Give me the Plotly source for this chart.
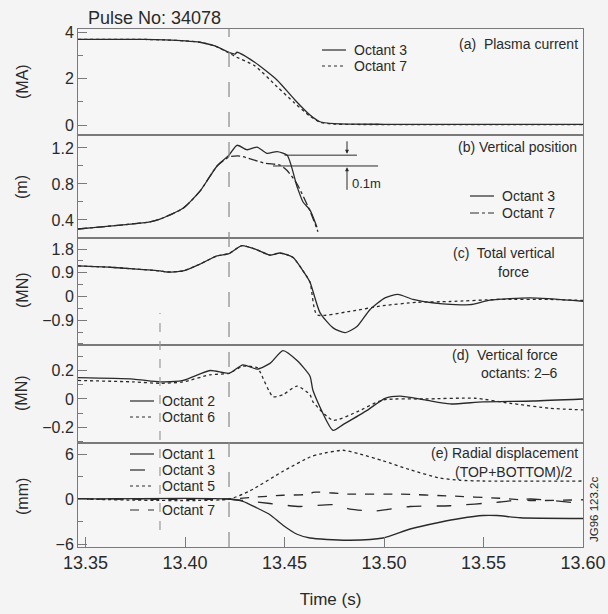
import plotly.graph_objects as go
from plotly.subplots import make_subplots

# ---------------- data (time in s) ----------------
# (a) Plasma current (MA)
t_ip3 = [13.3462, 13.38, 13.39, 13.40, 13.4075, 13.415, 13.4221, 13.4251, 13.4261, 13.435, 13.4462, 13.455, 13.4628, 13.4678, 13.475, 13.50, 13.60]
ip3 = [3.68, 3.68, 3.66, 3.62, 3.56, 3.40, 3.12, 3.05, 3.13, 2.70, 1.94, 1.10, 0.43, 0.14, 0.06, 0.03, 0.03]
t_ip7 = [13.3462, 13.38, 13.39, 13.40, 13.4075, 13.415, 13.4221, 13.4251, 13.435, 13.4462, 13.455, 13.4628, 13.4678, 13.475, 13.50, 13.60]
ip7 = [3.68, 3.68, 3.66, 3.62, 3.56, 3.40, 3.10, 2.95, 2.55, 1.65, 0.95, 0.38, 0.12, 0.04, 0.02, 0.02]

# (b) Vertical position (m)
t_z3 = [13.3462, 13.3824, 13.3874, 13.3990, 13.4075, 13.4161, 13.4221, 13.4261, 13.4312, 13.4362, 13.4412, 13.4462, 13.4513, 13.4563, 13.4593, 13.4628, 13.4663]
z3 = [0.30, 0.38, 0.41, 0.53, 0.72, 1.00, 1.12, 1.23, 1.18, 1.21, 1.14, 1.16, 1.12, 0.77, 0.60, 0.51, 0.32]
t_z7 = [13.3462, 13.3824, 13.3874, 13.3990, 13.4075, 13.4161, 13.4221, 13.4276, 13.4402, 13.4477, 13.4513, 13.4563, 13.4628, 13.4668]
z7 = [0.30, 0.38, 0.41, 0.53, 0.72, 1.00, 1.10, 1.11, 1.03, 1.01, 0.95, 0.80, 0.50, 0.27]

# (c) Total vertical force (MN)
t_fc = [13.3462, 13.3623, 13.3739, 13.3874, 13.3910, 13.3990, 13.4075, 13.4161, 13.4221, 13.4286, 13.4362, 13.4427, 13.4477, 13.4543, 13.4593, 13.4628, 13.4678, 13.4744, 13.4804, 13.4864, 13.4929, 13.5005, 13.5070, 13.5146, 13.5281, 13.5432, 13.5533, 13.5734, 13.60]
fc_solid = [1.16, 1.11, 1.05, 0.97, 0.93, 0.97, 1.23, 1.54, 1.63, 1.93, 1.77, 1.57, 1.65, 1.48, 0.97, 0.54, -0.61, -1.19, -1.37, -1.14, -0.50, -0.05, 0.08, -0.11, -0.27, -0.31, -0.14, -0.05, -0.18]
t_fc7 = [13.3462, 13.3623, 13.3739, 13.3874, 13.3910, 13.3990, 13.4075, 13.4161, 13.4221, 13.4286, 13.4362, 13.4427, 13.4477, 13.4543, 13.4593, 13.4628, 13.4663, 13.4829, 13.4995, 13.5166, 13.5332, 13.5583, 13.5834, 13.60]
fc_dot = [1.16, 1.11, 1.05, 0.97, 0.93, 0.97, 1.23, 1.54, 1.63, 1.93, 1.77, 1.57, 1.65, 1.48, 0.97, 0.54, -0.69, -0.56, -0.35, -0.22, -0.19, -0.11, -0.11, -0.15]

# (d) Vertical force octants 2-6 (MN)
t_f2 = [13.3462, 13.3739, 13.3874, 13.3990, 13.4126, 13.4221, 13.4291, 13.4362, 13.4427, 13.4492, 13.4563, 13.4628, 13.4643, 13.4744, 13.4794, 13.4915, 13.5005, 13.5080, 13.5206, 13.5332, 13.5497, 13.5749, 13.60]
f2 = [0.15, 0.14, 0.12, 0.13, 0.20, 0.18, 0.24, 0.21, 0.25, 0.34, 0.27, 0.16, 0.06, -0.22, -0.18, -0.08, 0.005, 0.02, -0.007, -0.035, -0.02, -0.014, 0.0]
t_f6 = [13.3462, 13.3739, 13.3874, 13.3990, 13.4126, 13.4221, 13.4291, 13.4362, 13.4377, 13.4442, 13.4492, 13.4563, 13.4628, 13.4643, 13.4744, 13.4864, 13.4995, 13.5206, 13.5457, 13.5633, 13.5834, 13.60]
f6 = [0.13, 0.12, 0.11, 0.12, 0.17, 0.18, 0.23, 0.22, 0.19, 0.016, 0.03, 0.09, 0.03, -0.02, -0.15, -0.09, -0.007, 0.0, 0.005, -0.03, -0.065, -0.077]

# (e) Radial displacement (TOP+BOTTOM)/2 (mm)
t_r1 = [13.3462, 13.4221, 13.4291, 13.4362, 13.4427, 13.4492, 13.4563, 13.4628, 13.4713, 13.4829, 13.4995, 13.5131, 13.5281, 13.5382, 13.5497, 13.5568, 13.5684, 13.60]
r1 = [0.0, 0.0, -0.3, -1.2, -2.1, -3.5, -4.7, -5.2, -5.4, -5.5, -5.2, -4.0, -3.1, -2.6, -2.2, -2.2, -2.5, -2.6]
t_r3 = [13.3462, 13.4221, 13.4291, 13.4427, 13.4578, 13.4744, 13.4829, 13.4955, 13.5131, 13.5332, 13.5583, 13.5734, 13.60]
r3 = [0.0, 0.0, -0.2, -0.6, -1.0, -0.75, -1.35, -1.6, -1.0, -0.9, -0.4, 0.0, -0.6]
t_r5 = [13.3462, 13.4221, 13.4327, 13.4492, 13.4628, 13.4678, 13.4794, 13.4879, 13.4995, 13.5131, 13.5281, 13.5382, 13.5497, 13.60]
r5 = [0.0, 0.0, 1.1, 3.7, 5.6, 6.0, 6.5, 6.0, 5.1, 3.9, 2.8, 2.5, 2.4, 2.4]
t_r7 = [13.3462, 13.4221, 13.4327, 13.4492, 13.4628, 13.4643, 13.4829, 13.5080, 13.5332, 13.5583, 13.5734, 13.60]
r7 = [0.0, 0.0, 0.2, 0.5, 0.65, 0.9, 0.65, 0.65, 0.4, 0.1, -0.2, -0.1]

x_ticks = [13.35, 13.40, 13.45, 13.50, 13.55, 13.60]
x_ticktext = ["13.35", "13.40", "13.45", "13.50", "13.55", "13.60"]
T_EVENT = 13.4221
T_EVENT2 = 13.3874

# ---------------- figure ----------------
FONT = "Liberation Sans, Arial, sans-serif"
INK = "#2a2a2a"
GRID = "#7a7a7a"
W, H = 608, 614
ML, MR, MT, MB = 78, 25, 29, 67
PW, PH = W - ML - MR, H - MT - MB

def px(xp):
    return (xp - ML) / PW

def py(yp):
    return (H - MB - yp) / PH

fig = make_subplots(rows=5, cols=1, shared_xaxes=True, vertical_spacing=0)

def ln(dash, w=1.3, shape="spline"):
    d = dict(color=INK, width=w, dash=dash)
    if shape:
        d.update(shape=shape, smoothing=0.6)
    return d

series = [
    (1, t_ip3, ip3, "Octant 3", "solid"),
    (1, t_ip7, ip7, "Octant 7", "dot"),
    (2, t_z3, z3, "Octant 3", "solid"),
    (2, t_z7, z7, "Octant 7", "dashdot"),
    (3, t_fc7, fc_dot, "Octant 7", "dot"),
    (3, t_fc, fc_solid, "Octant 3", "solid"),
    (4, t_f2, f2, "Octant 2", "solid"),
    (4, t_f6, f6, "Octant 6", "dot"),
    (5, t_r1, r1, "Octant 1", "solid"),
    (5, t_r3, r3, "Octant 3", "longdash"),
    (5, t_r5, r5, "Octant 5", "dot"),
    (5, t_r7, r7, "Octant 7", "dash"),
]
for row, tx, vy, nm, dash in series:
    fig.add_trace(go.Scatter(x=tx, y=vy, mode="lines", name=nm, line=ln(dash), showlegend=False),
                  row=row, col=1)

# domains (from pixel layout)
domains = [[py(135), 1.0], [py(238), py(135)], [py(345), py(238)], [py(443), py(345)], [0.0, py(443)]]
yranges = [[-0.43, 4.13], [0.2, 1.344], [-1.84, 2.22], [-0.309, 0.379], [-6.4, 7.47]]
yticks = [[0, 2, 4], [0.4, 0.8, 1.2], [-0.9, 0, 0.9, 1.8], [-0.2, 0, 0.2], [-6, 0, 6]]
yticktext = [["0", "2", "4"], ["0.4", "0.8", "1.2"], ["\u22120.9", "0", "0.9", "1.8"], ["\u22120.2", "0", "0.2"], ["\u22126", "0", "6"]]
minor_dt = [1, 0.2, 0.45, 0.1, 3]

for i in range(5):
    ax = "yaxis" if i == 0 else f"yaxis{i+1}"
    fig.layout[ax].update(
        domain=domains[i], range=yranges[i], tickvals=yticks[i], ticktext=yticktext[i],
        ticks="inside", ticklen=9, tickcolor=GRID, tickwidth=1,
        showline=True, mirror=True, linecolor=GRID, linewidth=1,
        showgrid=False, zeroline=False, automargin=False,
        tickfont=dict(family=FONT, size=16, color=INK),
        minor=dict(ticks="inside", ticklen=5, tickcolor=GRID, dtick=minor_dt[i], tick0=0),
    )
    xa = "xaxis" if i == 0 else f"xaxis{i+1}"
    fig.layout[xa].update(
        range=[13.3462, 13.60], showline=True, mirror=True, linecolor=GRID, linewidth=1,
        showgrid=False, zeroline=False, ticks="", showticklabels=False, automargin=False,
    )

fig.layout["xaxis5"].update(
    tickvals=x_ticks, ticktext=x_ticktext, showticklabels=True, ticks="inside",
    ticklen=10, tickcolor=GRID, tickfont=dict(family=FONT, size=18, color=INK),
    ticklabelstandoff=-1,
    title=dict(text="Time (s)", font=dict(family=FONT, size=17, color=INK), standoff=21),
)

# vertical event lines
fig.add_shape(type="line", xref="x", yref="paper", x0=T_EVENT, x1=T_EVENT, y0=0, y1=1,
              line=dict(color="#8a8a8a", width=1.2, dash="longdash"))
fig.add_shape(type="line", xref="x", yref="paper", x0=T_EVENT2, x1=T_EVENT2, y0=py(530), y1=py(313),
              line=dict(color="#9a9a9a", width=1.2, dash="dash"))

# 0.1 m marker in panel (b)
fig.add_shape(type="line", xref="x2", yref="y2", x0=13.450, x1=13.4864, y0=1.12, y1=1.12,
              line=dict(color=INK, width=1))
fig.add_shape(type="line", xref="x2", yref="y2", x0=13.4442, x1=13.4970, y0=1.00, y1=1.00,
              line=dict(color=INK, width=1))

ann = []
def A(text, x, y, xanchor="right", size=14, **kw):
    d = dict(text=text, x=px(x), y=py(y), xref="paper", yref="paper", xanchor=xanchor, yanchor="middle",
             showarrow=False, font=dict(family=FONT, size=size, color=INK))
    d.update(kw)
    ann.append(d)

A("(a)  Plasma current", 580, 44)
A("(b) Vertical position", 579, 147)
A("(c)  Total vertical", 557, 253)
A("force", 513, 272, xanchor="center")
A("(d)  Vertical force", 560, 355)
A("octants: 2\u20136", 559, 373)
A("(e) Radial displacement", 580, 453)
A("(TOP+BOTTOM)/2", 575, 472)
A("0.1m", 350, 184, xanchor="left", size=13)
A("JG96 123.2c", 594, 510, xanchor="center", size=11.5, textangle=-90)
A("Pulse No: 34078", 86, 18, xanchor="left", size=18)

for txt, yy in [("(MA)", 82), ("(m)", 187), ("(MN)", 290), ("(MN)", 393), ("(mm)", 497)]:
    A(txt, 22, yy, xanchor="center", size=16, textangle=-90)

# arrows for 0.1 m marker
ann.append(dict(x=13.4814, y=1.135, xref="x2", yref="y2", ax=0, ay=-14, showarrow=True,
                arrowhead=2, arrowsize=0.8, arrowwidth=1, arrowcolor=INK, text=""))
ann.append(dict(x=13.4814, y=0.985, xref="x2", yref="y2", ax=0, ay=24, showarrow=True,
                arrowhead=2, arrowsize=0.8, arrowwidth=1, arrowcolor=INK, text=""))

# hand-placed legends (compact, like the original)
legends = [
    (322, [(50, "Octant 3", "solid"), (66, "Octant 7", "dot")]),
    (470, [(196, "Octant 3", "solid"), (213, "Octant 7", "dashdot")]),
    (130, [(401, "Octant 2", "solid"), (417, "Octant 6", "dot")]),
    (130, [(454, "Octant 1", "solid"), (470, "Octant 3", "longdash"), (486, "Octant 5", "dot"), (510, "Octant 7", "dash")]),
]
for x0, items in legends:
    for yy, name, dash in items:
        fig.add_shape(type="line", xref="paper", yref="paper", x0=px(x0), x1=px(x0 + 24),
                      y0=py(yy), y1=py(yy), line=dict(color=INK, width=1.2, dash=dash))
        A(name, x0 + 30, yy, xanchor="left", size=14)

fig.update_layout(
    width=W, height=H,
    margin=dict(l=ML, r=MR, t=MT, b=MB, autoexpand=False),
    paper_bgcolor="#f4f4f4", plot_bgcolor="#f6f6f6",
    annotations=ann,
    showlegend=False,
    hovermode=False,
)

fig.write_html("out.html", config=dict(displayModeBar=False),
               post_script="document.body.style.margin='0';document.body.style.overflow='hidden';")
